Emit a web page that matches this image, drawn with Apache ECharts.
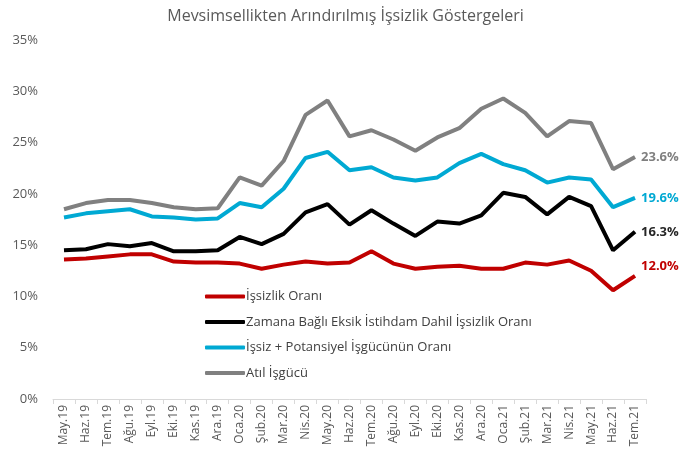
<!DOCTYPE html>
<html><head><meta charset="utf-8">
<script src="https://cdn.jsdelivr.net/npm/echarts@6/dist/echarts.min.js"></script>
<style>html,body{margin:0;padding:0;background:#fff}#c{width:691px;height:461px}</style>
</head><body><div id="c"></div>
<script>
const categories = ["May.19","Haz.19","Tem.19","Ağu.19","Eyl.19","Eki.19","Kas.19","Ara.19","Oca.20","Şub.20","Mar.20","Nis.20","May.20","Haz.20","Tem.20","Ağu.20","Eyl.20","Eki.20","Kas.20","Ara.20","Oca.21","Şub.21","Mar.21","Nis.21","May.21","Haz.21","Tem.21"];
const issizlik = [13.6,13.7,13.9,14.1,14.1,13.4,13.3,13.3,13.2,12.7,13.1,13.4,13.2,13.3,14.4,13.2,12.7,12.9,13.0,12.7,12.7,13.3,13.1,13.5,12.5,10.6,12.0];
const zamana = [14.5,14.6,15.1,14.9,15.2,14.4,14.4,14.5,15.8,15.1,16.1,18.2,19.0,17.0,18.4,17.1,15.9,17.3,17.1,17.9,20.1,19.7,18.0,19.7,18.8,14.5,16.3];
const potansiyel = [17.7,18.1,18.3,18.5,17.8,17.7,17.5,17.6,19.1,18.7,20.5,23.5,24.1,22.3,22.6,21.6,21.3,21.6,23.0,23.9,22.9,22.3,21.1,21.6,21.4,18.7,19.6];
const atil = [18.5,19.1,19.4,19.4,19.1,18.7,18.5,18.6,21.6,20.8,23.2,27.7,29.1,25.6,26.2,25.3,24.2,25.5,26.4,28.3,29.3,27.9,25.6,27.1,26.9,22.4,23.6];
const yTicks = [0,5,10,15,20,25,30,35];
const names = ["İşsizlik Oranı","Zamana Bağlı Eksik İstihdam Dahil İşsizlik Oranı","İşsiz + Potansiyel İşgücünün Oranı","Atıl İşgücü"];

const FONT = "'Open Sans', 'Liberation Sans', sans-serif";
function mk(name, data, color, labelColor, offsetY) {
  return {
    name: name, type: 'line', data: data, symbol: 'none',
    lineStyle: {color: color, width: 4}, itemStyle: {color: color},
    endLabel: {
      show: true, distance: 6, offset: [0, offsetY],
      formatter: p => Number(p.value).toFixed(1) + '%',
      color: labelColor, fontWeight: 'bold', fontSize: 13, fontFamily: FONT
    },
    emphasis: {disabled: true}, z: 3
  };
}
const chart = echarts.init(document.getElementById('c'), null, {renderer: 'canvas'});
chart.setOption({
  animation: false,
  backgroundColor: '#fff',
  title: {text: 'Mevsimsellikten Arındırılmış İşsizlik Göstergeleri', left: 'center', top: 3,
    textStyle: {fontSize: 16, fontWeight: 'normal', color: '#595959', fontFamily: FONT}},
  grid: {left: 53, right: 45, top: 40, bottom: 62, containLabel: false},
  legend: {
    orient: 'vertical', left: 200, top: 285, itemGap: 12.5, itemWidth: 40, itemHeight: 4,
    icon: 'roundRect',
    data: names,
    textStyle: {fontSize: 13, color: '#404040', fontFamily: FONT, padding: [0,0,0,-4]}
  },
  xAxis: {
    type: 'category', data: categories, boundaryGap: true,
    axisLine: {lineStyle: {color: '#d9d9d9', width: 1}},
    axisTick: {show: true, length: 5, lineStyle: {color: '#d9d9d9'}},
    axisLabel: {rotate: 90, interval: 0, fontSize: 12, color: '#595959', fontFamily: FONT, margin: 6}
  },
  yAxis: {
    type: 'value', min: 0, max: 35, interval: 5,
    axisLine: {show: false}, axisTick: {show: false}, splitLine: {show: false},
    axisLabel: {fontSize: 13, color: '#595959', fontFamily: FONT, margin: 15,
      formatter: v => yTicks.includes(v) ? v + '%' : ''}
  },
  series: [
    mk(names[0], issizlik, '#C00000', '#C00000', -10),
    mk(names[1], zamana, '#000000', '#262626', 0),
    mk(names[2], potansiyel, '#00A9D3', '#00A9D3', 0),
    mk(names[3], atil, '#808080', '#7F7F7F', 0)
  ]
});
</script></body></html>
